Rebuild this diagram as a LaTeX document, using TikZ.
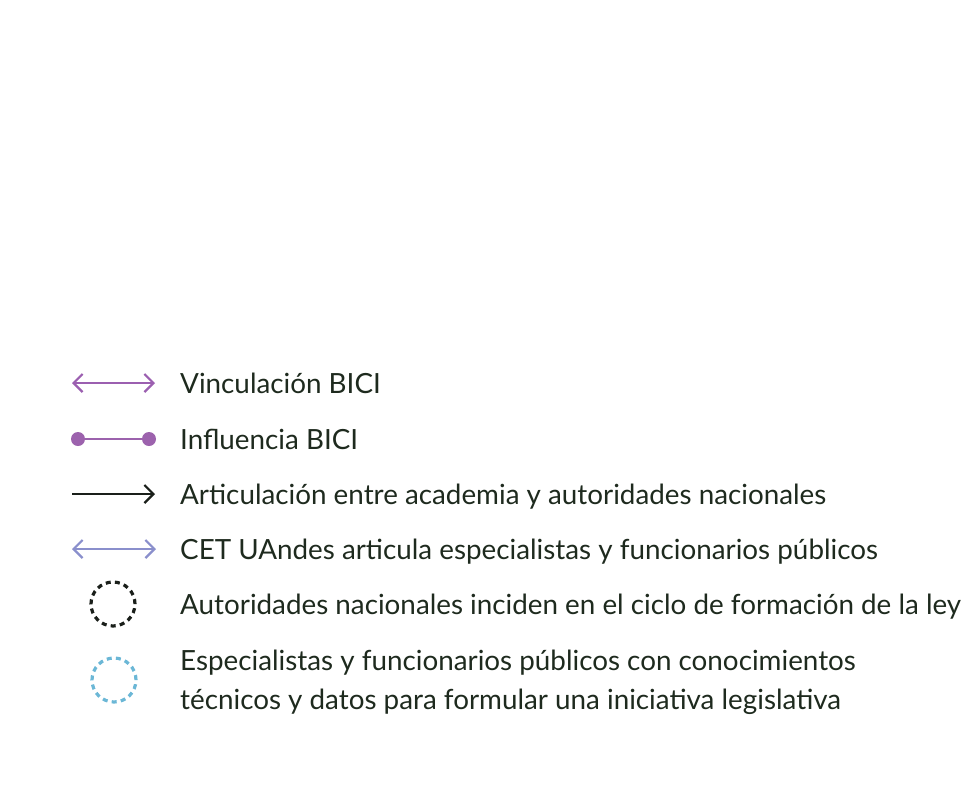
\documentclass[tikz,border=0pt]{standalone}
\usepackage{fontspec}
\setmainfont{Lato}
\usetikzlibrary{arrows.meta}
\definecolor{txt}{HTML}{1E2A1E}
\definecolor{vinc}{HTML}{9B5FB0}
\definecolor{infl}{HTML}{9C62AD}
\definecolor{cet}{HTML}{8A8FCC}
\definecolor{autc}{HTML}{1A1F1A}
\definecolor{espc}{HTML}{6BB7D6}
\tikzset{
  lbl/.style={anchor=base west, inner sep=0pt, text=txt, font=\fontsize{27.8}{39}\selectfont, align=left},
  conn/.style={line width=2.2pt},
  barbtip/.style={Straight Barb[length=9pt,width=18pt]},
  dcirc/.style={circle, minimum size=44pt, inner sep=0pt, line width=3.2pt, dash pattern=on 5pt off 4.2pt},
  dot/.style={circle, fill=infl, minimum size=14pt, inner sep=0pt},
}
\begin{document}
\begin{tikzpicture}[x=1pt,y=-1pt]
\useasboundingbox (0,0) rectangle (980,795);
% row 1
\coordinate (v1) at (72,383); \coordinate (v2) at (155,383);
\draw[conn, vinc, {Straight Barb[length=9pt,width=18pt]}-{Straight Barb[length=9pt,width=18pt]}] (v1) -- (v2);
\node[lbl] (t1) at (180,393) {Vinculación BICI};
% row 2
\node[dot] (d1) at (78,439) {};
\node[dot] (d2) at (149,439) {};
\draw[conn, infl] (d1) -- (d2);
\node[lbl] (t2) at (180,449) {Influencia BICI};
% row 3
\coordinate (a1) at (72,494); \coordinate (a2) at (155,494);
\draw[conn, autc, -{Straight Barb[length=9pt,width=18pt]}] (a1) -- (a2);
\node[lbl] (t3) at (180,504) {Articulación entre academia y autoridades nacionales};
% row 4
\coordinate (c1) at (72,549); \coordinate (c2) at (156,549);
\draw[conn, cet, {Straight Barb[length=9pt,width=18pt]}-{Straight Barb[length=9pt,width=18pt]}] (c1) -- (c2);
\node[lbl] (t4) at (180,559) {CET UAndes articula especialistas y funcionarios públicos};
% row 5
\node[dcirc, draw=autc] (o1) at (113,604) {};
\node[lbl] (t5) at (180,614) {Autoridades nacionales inciden en el ciclo de formación de la ley};
% row 6
\node[dcirc, draw=espc] (o2) at (114,680) {};
\node[lbl] (t6) at (180,709) {Especialistas y funcionarios públicos con conocimientos\\técnicos y datos para formular una iniciativa legislativa};
\end{tikzpicture}
\end{document}
